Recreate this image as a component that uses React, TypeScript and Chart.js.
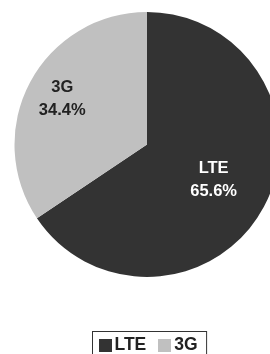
import React, { useEffect, useRef } from "react";
import { Chart, registerables } from "chart.js";

Chart.register(...registerables);

const categories = ["LTE", "3G"];
const shares = [65.6, 34.4];
const colors = ["#333333", "#c0c0c0"];
const labelColors = ["#ffffff", "#222222"];
const labelRadius = [0.57, 0.725];

const FONT = "'Liberation Sans Narrow', 'Arial Narrow', 'Liberation Sans', Arial, sans-serif";

const sliceLabels = {
  id: "sliceLabels",
  afterDatasetsDraw(chart: any) {
    const ctx = chart.ctx;
    const meta = chart.getDatasetMeta(0);
    meta.data.forEach((arc: any, i: number) => {
      const p = arc.getProps(["x", "y", "startAngle", "endAngle", "outerRadius"], true);
      const mid = (p.startAngle + p.endAngle) / 2;
      const r = p.outerRadius * labelRadius[i];
      const x = p.x + Math.cos(mid) * r;
      const y = p.y + Math.sin(mid) * r;
      ctx.save();
      ctx.fillStyle = labelColors[i];
      ctx.font = `bold 16.5px ${FONT}`;
      ctx.textAlign = "center";
      ctx.textBaseline = "middle";
      ctx.fillText(categories[i], x, y - 11.5);
      ctx.fillText(shares[i].toFixed(1) + "%", x, y + 11.5);
      ctx.restore();
    });
  },
};

const boxedLegend = {
  id: "boxedLegend",
  afterDraw(chart: any) {
    const ctx = chart.ctx;
    ctx.save();
    ctx.font = `bold 17.5px ${FONT}`;
    const sq = 13;
    const gapSq = 3;
    const gapItem = 12;
    const padL = 6;
    const padR = 9;
    let total = padL + padR;
    categories.forEach((c, i) => {
      total += sq + gapSq + ctx.measureText(c).width;
      if (i < categories.length - 1) total += gapItem;
    });
    const cx = 149.5;
    const top = 331;
    const h = 28;
    const left = Math.round(cx - total / 2) + 0.5;
    ctx.strokeStyle = "#333333";
    ctx.lineWidth = 1;
    ctx.strokeRect(left, top + 0.5, total, h);
    let x = left + padL;
    const cy = top + 14.5;
    categories.forEach((c, i) => {
      ctx.fillStyle = colors[i];
      ctx.fillRect(Math.round(x), Math.round(cy - sq / 2), sq, sq);
      x += sq + gapSq;
      ctx.fillStyle = "#222222";
      ctx.textBaseline = "middle";
      ctx.textAlign = "left";
      ctx.fillText(c, x, cy);
      x += ctx.measureText(c).width + gapItem;
    });
    ctx.restore();
  },
};

export default function App() {
  const ref = useRef<HTMLCanvasElement>(null);
  useEffect(() => {
    document.body.style.margin = "0";
    const chart = new Chart(ref.current!, {
      type: "pie",
      data: {
        labels: categories,
        datasets: [
          {
            data: shares,
            backgroundColor: colors,
            borderWidth: 0,
          },
        ],
      },
      options: {
        animation: false,
        responsive: false,
        layout: { padding: { top: 12, left: 14.5, right: 14.5, bottom: 85 } },
        plugins: {
          legend: { display: false },
          tooltip: { enabled: false },
        },
      },
      plugins: [sliceLabels, boxedLegend],
    });
    return () => chart.destroy();
  }, []);
  return (
    <div style={{ position: "absolute", left: 0, top: 0, width: 294, height: 362 }}>
      <canvas ref={ref} width={294} height={362} style={{ width: 294, height: 362 }} />
    </div>
  );
}
